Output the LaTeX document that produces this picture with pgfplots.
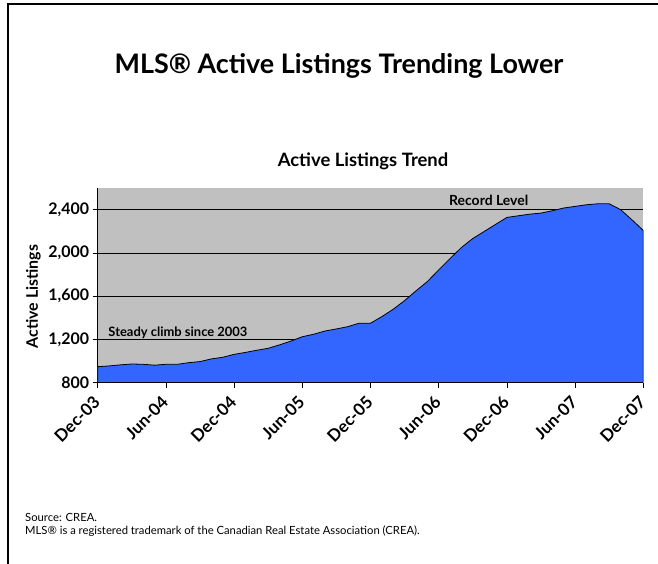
\documentclass[border=0pt]{standalone}
\usepackage{fontspec}
\setmainfont{Lato}
\usepackage{pgfplots}
\pgfplotsset{compat=1.18}
\definecolor{areablue}{RGB}{51,102,255}
\definecolor{plotgray}{RGB}{192,192,192}
\pgfplotstableread{
m v
0 948
1 955
2 965
3 973
4 970
5 962
6 970
7 970
8 985
9 995
10 1020
11 1035
12 1062
13 1080
14 1100
15 1118
16 1150
17 1185
18 1225
19 1248
20 1278
21 1297
22 1318
23 1350
24 1350
25 1411
26 1479
27 1559
28 1649
29 1735
30 1843
31 1948
32 2050
33 2133
34 2198
35 2263
36 2328
37 2343
38 2358
39 2368
40 2390
41 2415
42 2430
43 2445
44 2454
45 2454
46 2400
47 2306
48 2207
}\listings
\begin{document}
\begin{tikzpicture}[x=1bp,y=1bp]
\useasboundingbox (0,0) rectangle (658,564);
\fill[white] (0,0) rectangle (658,564);
\draw[line width=2bp] (8,0) -- (8,560) -- (658,560);
\node[font=\bfseries\fontsize{27}{30}\selectfont] at (339,498) {MLS® Active Listings Trending Lower};
\node[font=\bfseries\fontsize{18.5}{20}\selectfont] at (363,403) {Active Listings Trend};
\node[anchor=north west, align=left, font=\fontsize{11.3}{13}\selectfont, inner sep=0pt] at (25,51) {Source: CREA.\\MLS® is a registered trademark of the Canadian Real Estate Association (CREA).};
\begin{axis}[
  at={(97.7bp,181.3bp)}, anchor=south west,
  scale only axis, width=545.6bp, height=194.7bp,
  xmin=0, xmax=48, ymin=800, ymax=2600,
  xtick={0,6,...,48},
  xticklabels={Dec-03,Jun-04,Dec-04,Jun-05,Dec-05,Jun-06,Dec-06,Jun-07,Dec-07},
  ytick={800,1200,1600,2000,2400},
  axis background/.style={fill=plotgray},
  ymajorgrids, grid style={black, line width=0.7bp},
  axis x line*=bottom, axis y line*=left,
  axis line style={-, black, line width=0.7bp},
  tick align=outside, major tick length=5bp,
  tick style={black, line width=0.7bp},
  xticklabel shift=11bp,
  x tick label style={rotate=45, anchor=east, inner sep=1bp, font=\bfseries\fontsize{17}{19}\selectfont},
  y tick label style={font=\bfseries\fontsize{16}{18}\selectfont},
  /pgf/number format/1000 sep={,},
  /pgf/number format/assume math mode=true,
  ylabel={Active Listings},
  ylabel style={font=\bfseries\fontsize{16}{18}\selectfont, at={(axis description cs:-0.118,0.443)}, anchor=center},
]
\addplot[fill=areablue, draw=black, line width=0.8bp] table[x=m, y=v] {\listings} \closedcycle;
\draw[line width=2bp] (rel axis cs:0,0) -- (rel axis cs:1,0);
\node[font=\bfseries\fontsize{13}{15}\selectfont] at (axis cs:7.06,1262) {Steady climb since 2003};
\node[font=\bfseries\fontsize{14}{15}\selectfont] at (axis cs:34.4,2481) {Record Level};
\end{axis}
\end{tikzpicture}
\end{document}
